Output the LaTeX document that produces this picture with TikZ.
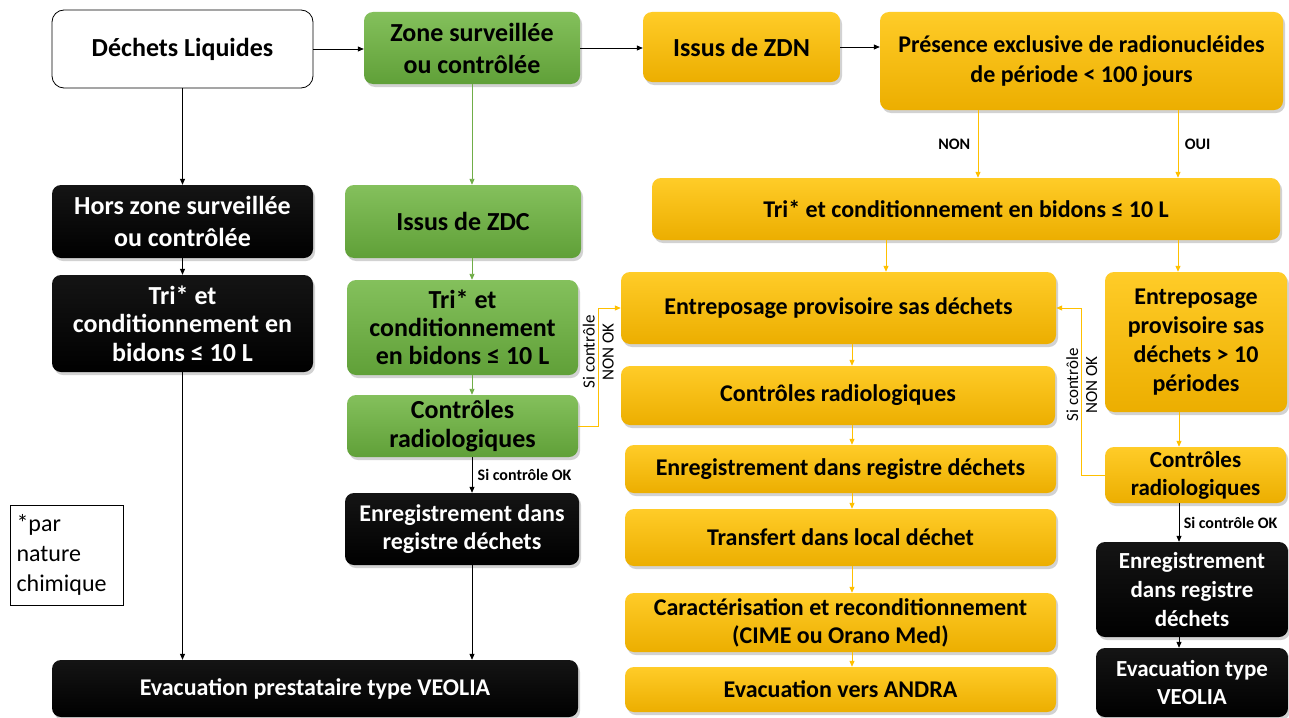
\documentclass[tikz,border=0pt]{standalone}
\usepackage{fontspec}
\setmainfont{Carlito}
\usetikzlibrary{arrows.meta,shadows,calc}
\definecolor{ytop}{RGB}{255,204,40}
\definecolor{ybot}{RGB}{236,174,0}
\definecolor{gtop}{RGB}{132,192,92}
\definecolor{gbot}{RGB}{96,160,56}
\definecolor{yline}{RGB}{255,192,0}
\definecolor{gline}{RGB}{112,173,71}
\newcommand\fsz[2]{\fontsize{#1}{#2}\selectfont}
\tikzset{
  base/.style={rounded corners=9pt, align=center, inner sep=2pt, font=\bfseries\fsz{24}{28}},
  shad/.style={drop shadow={opacity=0.35, shadow xshift=2pt, shadow yshift=-3pt}},
  ybox/.style={base, shad, top color=ytop, bottom color=ybot, text=black},
  gbox/.style={base, shad, top color=gtop, bottom color=gbot, text=black},
  kbox/.style={base, shad, top color=black!92, bottom color=black, text=white},
  wbox/.style={base, draw=black, line width=0.8pt, fill=white, rounded corners=12pt},
  karr/.style={-{Triangle[length=6pt,width=5pt]}, line width=0.8pt, black},
  garr/.style={-{Triangle[length=6pt,width=5pt]}, line width=0.9pt, gline},
  yarr/.style={-{Triangle[length=6pt,width=5pt]}, line width=1pt, yline},
  small/.style={font=\bfseries\fsz{16}{19}, text=black},
  vlab/.style={font=\fsz{17}{19}, text=black, rotate=90, align=center, inner sep=0pt},
}
\begin{document}
\begin{tikzpicture}[x=1pt,y=-1pt]
\useasboundingbox[fill=white] (0,0) rectangle (1289,717);
% column positions for connectors
\coordinate (xnon) at (978,0);
\coordinate (xoui) at (1178,0);
\coordinate (xtri) at (886,0);
\coordinate (xc) at (852,0);
\coordinate (xr) at (1179,0);
% left column
\node[wbox, minimum width=261, minimum height=78, font=\bfseries\fsz{26}{30}] (dl) at (182.5,49) {Déchets Liquides};
\node[kbox, minimum width=261, minimum height=73, font=\bfseries\fsz{26}{32}] (hors) at (182.5,221.5) {Hors zone surveillée\\ou contrôlée};
\node[kbox, minimum width=261, minimum height=97, font=\bfseries\fsz{26}{28.5}] (trib) at (182.5,323.5) {Tri* et\\conditionnement en\\bidons ≤ 10 L};
\node[kbox, minimum width=526, minimum height=57] (evp) at (315,688.5) {Evacuation prestataire type VEOLIA};
\node[draw=black, line width=0.8pt, minimum width=113, minimum height=100, align=left, font=\fsz{24}{30}, inner sep=4pt] (par) at (66.5,555) {\makebox[100pt][l]{*par}\\nature\\chimique};
% green column
\node[gbox, minimum width=216, minimum height=72, font=\bfseries\fsz{26}{32}] (zone) at (472,48) {Zone surveillée\\ou contrôlée};
\node[gbox, minimum width=236, minimum height=73, font=\bfseries\fsz{26}{30}] (zdc) at (463,221.5) {Issus de ZDC};
\node[gbox, minimum width=231, minimum height=95, font=\bfseries\fsz{26}{28}] (trig) at (462.5,327.5) {Tri* et\\conditionnement\\en bidons ≤ 10 L};
\node[gbox, minimum width=231, minimum height=62, font=\bfseries\fsz{26}{29}] (ctrg) at (462.5,426) {Contrôles\\radiologiques};
\node[kbox, minimum width=234, minimum height=72] (enrk) at (462,529) {Enregistrement dans\\registre déchets};
% yellow centre
\node[ybox, minimum width=197, minimum height=70, font=\bfseries\fsz{26}{30}] (zdn) at (741.5,47) {Issus de ZDN};
\node[ybox, minimum width=403, minimum height=98, font=\bfseries\fsz{24}{30}] (pres) at (1081.5,61) {Présence exclusive de radionucléides\\de période < 100 jours};
\node[ybox, minimum width=628, minimum height=62] (triy) at (966,209) {Tri* et conditionnement en bidons ≤ 10 L};
\node[ybox, minimum width=435, minimum height=72] (ent) at (838.5,308) {Entreposage provisoire sas déchets};
\node[ybox, minimum width=434, minimum height=59] (ctry) at (838,395.5) {Contrôles radiologiques};
\node[ybox, minimum width=431, minimum height=48] (enry) at (840.5,469) {Enregistrement dans registre déchets};
\node[ybox, minimum width=431, minimum height=57] (trf) at (840.5,537.5) {Transfert dans local déchet};
\node[ybox, minimum width=431, minimum height=59] (car) at (840.5,622.5) {Caractérisation et reconditionnement\\(CIME ou Orano Med)};
\node[ybox, minimum width=431, minimum height=45] (andra) at (840.5,689.5) {Evacuation vers ANDRA};
% right column
\node[ybox, minimum width=182, minimum height=140, font=\bfseries\fsz{24}{29}] (ent10) at (1196,342) {Entreposage\\provisoire sas\\déchets > 10\\périodes};
\node[ybox, minimum width=181, minimum height=56, font=\bfseries\fsz{23}{28}] (ctrr) at (1195.5,475) {Contrôles\\radiologiques};
\node[kbox, minimum width=192, minimum height=95, font=\bfseries\fsz{23}{29}] (enrr) at (1192,589.5) {Enregistrement\\dans registre\\déchets};
\node[kbox, minimum width=192, minimum height=69, font=\bfseries\fsz{23}{28}] (evr) at (1192,682.5) {Evacuation type\\VEOLIA};
% connectors: black flow
\draw[karr] (dl.east) -- (dl.east -| zone.west);
\draw[karr] (zone.east) -- (zone.east -| zdn.west);
\draw[karr] (zdn.east) -- (zdn.east -| pres.west);
\draw[karr] (dl.south) -- (hors.north);
\draw[karr] (hors.south) -- (trib.north);
\draw[karr] (trib.south) -- (evp.north -| trib.south);
% green flow
\draw[garr] (zone.south) -- (zone.south |- zdc.north);
\draw[garr] (zone.south |- zdc.south) -- (zone.south |- trig.north);
\draw[garr] (zone.south |- trig.south) -- (zone.south |- ctrg.north);
\draw[karr] (zone.south |- ctrg.south) -- (zone.south |- enrk.north) node[small, midway, right, xshift=2pt] {Si contrôle OK};
\draw[karr] (zone.south |- enrk.south) -- (zone.south |- evp.north);
% NON OK from green
\draw[yarr] (ctrg.east) -- ++(20,0) |- (ent.west);
\node[vlab] (lblL) at ($(ctrg.east)+(20,-74)$) {Si contrôle\\NON OK};
% yellow flow
\draw[yarr] (pres.south -| xnon) -- (triy.north -| xnon) node[small, midway, left, xshift=-4pt] {NON};
\draw[yarr] (pres.south -| xoui) -- (triy.north -| xoui) node[small, midway, right, xshift=3pt] {OUI};
\draw[yarr] (triy.south -| xtri) -- (ent.north -| xtri);
\draw[yarr] (triy.south -| xoui) -- (ent10.north -| xoui);
\draw[yarr] (ent.south -| xc) -- (ctry.north -| xc);
\draw[yarr] (ctry.south -| xc) -- (enry.north -| xc);
\draw[yarr] (enry.south -| xc) -- (trf.north -| xc);
\draw[yarr] (trf.south -| xc) -- (car.north -| xc);
\draw[yarr] (car.south -| xc) -- (andra.north -| xc);
\draw[yarr] (ent10.south -| xr) -- (ctrr.north -| xr);
\draw[karr] (ctrr.south -| xr) -- (enrr.north -| xr) node[small, midway, right, xshift=1pt] {Si contrôle OK};
\draw[karr] (enrr.south -| xr) -- (evr.north -| xr);
% NON OK from right
\draw[yarr] (ctrr.west) -- ++(-23,0) |- (ent.east);
\node[vlab] (lblR) at ($(ctrr.west)+(-23,-90)$) {Si contrôle\\NON OK};
\end{tikzpicture}
\end{document}
